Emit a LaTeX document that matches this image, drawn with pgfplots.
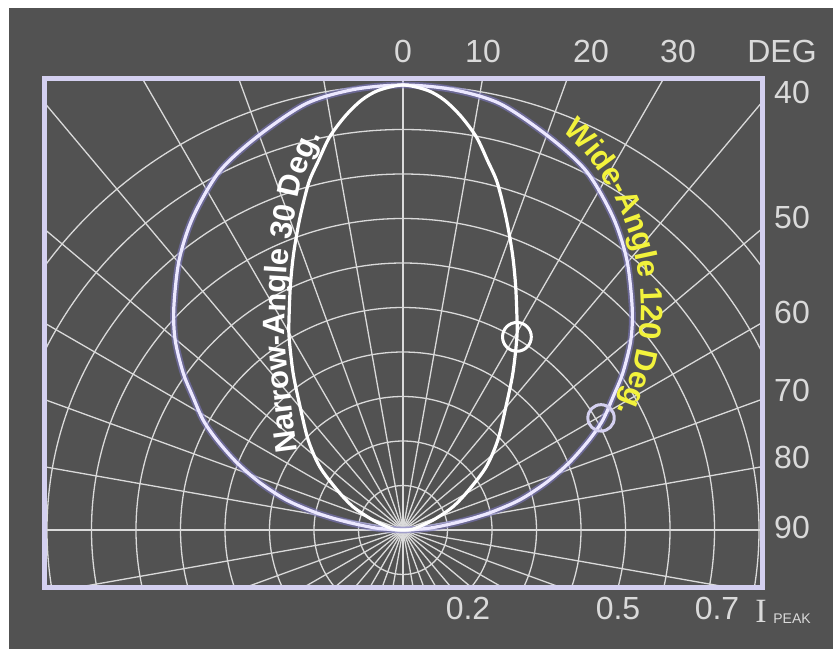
\documentclass[border=0pt]{standalone}
\usepackage{pgfplots}
\pgfplotsset{compat=1.18}
\usepackage{fontspec}
\setmainfont{Liberation Sans}
\newfontfamily\seriffont{Liberation Serif}
\usetikzlibrary{decorations.text}
\definecolor{bg}{HTML}{525252}
\definecolor{gridc}{HTML}{DADADA}
\definecolor{borderc}{HTML}{D4D0F0}
\definecolor{labc}{HTML}{DADADA}
\definecolor{widec}{HTML}{ECE8FF}
\definecolor{glowc}{HTML}{7C78C0}
\definecolor{yel}{HTML}{F2F23C}
\begin{document}
\begin{tikzpicture}
% background and polar grid (pixel coordinates, origin of the polar grid at 403,530)
\begin{scope}[shift={(-201.5pt,265pt)}, x=0.5pt, y=-0.5pt]
  \fill[white] (0,0) rectangle (833,649);
  \fill[bg] (9,8) rectangle (833,649);
  \begin{scope}
    \clip (45,79) rectangle (762,587);
    \foreach \r in {1,...,10} \draw[gridc, line width=0.65pt] (403,530) circle[radius=22.25pt*\r];
    \foreach \a in {0,10,...,350} \draw[gridc, line width=0.65pt] (403,530) -- ++(\a:400pt);
  \end{scope}
\end{scope}
\begin{axis}[anchor=origin, at={(0,0)}, x=222.5pt, y=222.5pt,
  xmin=-0.8045, xmax=0.8067, ymin=-0.1281, ymax=1.0135, hide axis, clip=false]
% Wide-angle pattern (120 deg)
\addplot[glowc, opacity=0.6, line width=3.4pt, smooth] coordinates {
(0,0) (0.058,0.004) (0.126,0.018) (0.193,0.038) (0.261,0.067) (0.321,0.106) (0.373,0.151) (0.418,0.202) (0.449,0.247) (0.472,0.299) (0.494,0.353) (0.512,0.427) (0.515,0.50) (0.503,0.607) (0.472,0.703) (0.413,0.805) (0.33,0.882) (0.218,0.958) (0.11,0.99) (0,1.0)
(-0.11,0.99) (-0.218,0.958) (-0.33,0.882) (-0.413,0.805) (-0.472,0.703) (-0.503,0.607) (-0.515,0.50) (-0.512,0.427) (-0.494,0.353) (-0.472,0.299) (-0.449,0.247) (-0.418,0.202) (-0.373,0.151) (-0.321,0.106) (-0.261,0.067) (-0.193,0.038) (-0.126,0.018) (-0.058,0.004) (0,0)};
\addplot[widec, line width=1.6pt, smooth] coordinates {
(0,0) (0.058,0.004) (0.126,0.018) (0.193,0.038) (0.261,0.067) (0.321,0.106) (0.373,0.151) (0.418,0.202) (0.449,0.247) (0.472,0.299) (0.494,0.353) (0.512,0.427) (0.515,0.50) (0.503,0.607) (0.472,0.703) (0.413,0.805) (0.33,0.882) (0.218,0.958) (0.11,0.99) (0,1.0)
(-0.11,0.99) (-0.218,0.958) (-0.33,0.882) (-0.413,0.805) (-0.472,0.703) (-0.503,0.607) (-0.515,0.50) (-0.512,0.427) (-0.494,0.353) (-0.472,0.299) (-0.449,0.247) (-0.418,0.202) (-0.373,0.151) (-0.321,0.106) (-0.261,0.067) (-0.193,0.038) (-0.126,0.018) (-0.058,0.004) (0,0)};
% Narrow-angle pattern (30 deg)
\addplot[white, line width=1.6pt, smooth] coordinates {
(0,0) (0.022,0.002) (0.067,0.022) (0.112,0.052) (0.148,0.090) (0.187,0.142) (0.213,0.202) (0.231,0.276) (0.247,0.353) (0.256,0.434) (0.256,0.48) (0.253,0.55) (0.246,0.62) (0.232,0.70) (0.212,0.78) (0.190,0.83) (0.165,0.883) (0.130,0.93) (0.093,0.966) (0.055,0.988) (0,1.0)
(-0.055,0.988) (-0.093,0.966) (-0.130,0.93) (-0.165,0.883) (-0.190,0.83) (-0.212,0.78) (-0.232,0.70) (-0.246,0.62) (-0.253,0.55) (-0.256,0.48) (-0.256,0.434) (-0.247,0.353) (-0.231,0.276) (-0.213,0.202) (-0.187,0.142) (-0.148,0.090) (-0.112,0.052) (-0.067,0.022) (-0.022,0.002) (0,0)};
% half-intensity markers
\addplot[only marks, mark=o, mark size=7.2pt, mark options={white, line width=1.5pt}] coordinates {(0.256,0.434)};
\addplot[only marks, mark=o, mark size=6.6pt, mark options={borderc, line width=1.5pt}] coordinates {(0.445,0.252)};
\end{axis}
% frame, labels and curve captions
\begin{scope}[shift={(-201.5pt,265pt)}, x=0.5pt, y=-0.5pt]
  \draw[borderc, line width=2.5pt] (45,79) rectangle (762,587);
  \tikzset{lab/.style={text=labc, font=\fontsize{16}{19}\selectfont, inner sep=0pt}}
  \node[lab] at (403,51) {0};
  \node[lab] at (483,51) {10};
  \node[lab] at (591,51) {20};
  \node[lab] at (678,51) {30};
  \node[lab] at (782,51) {DEG};
  \node[lab] at (792,92) {40};
  \node[lab] at (792,217) {50};
  \node[lab] at (792,312) {60};
  \node[lab] at (792,390) {70};
  \node[lab] at (792,457) {80};
  \node[lab] at (792,527) {90};
  \node[lab] at (468,608) {0.2};
  \node[lab] at (618,608) {0.5};
  \node[lab] at (717,608) {0.7};
  \node[text=labc, inner sep=0pt, font=\seriffont\fontsize{17}{20}\selectfont] at (761,611) {I};
  \node[text=labc, inner sep=0pt, font=\fontsize{7}{8}\selectfont] at (792,619) {PEAK};
  \path[decorate, decoration={text along path, text align=center,
     text={|\fontsize{15.5}{18}\selectfont\bfseries\color{white}|Narrow-Angle 30 Deg.}}]
     plot[smooth] coordinates {(303,494) (299,462) (291,400) (285,337) (288,260) (295,217) (303,177) (327,125) (345,100)};
  \path[decorate, decoration={text along path, text align=center,
     text={|\fontsize{15.5}{18}\selectfont\bfseries\color{yel}|Wide-Angle 120 Deg.}}]
     ([shift={(56:119pt)}]403,307) arc[start angle=56, end angle=-34, radius=119pt];
\end{scope}
\end{tikzpicture}
\end{document}
